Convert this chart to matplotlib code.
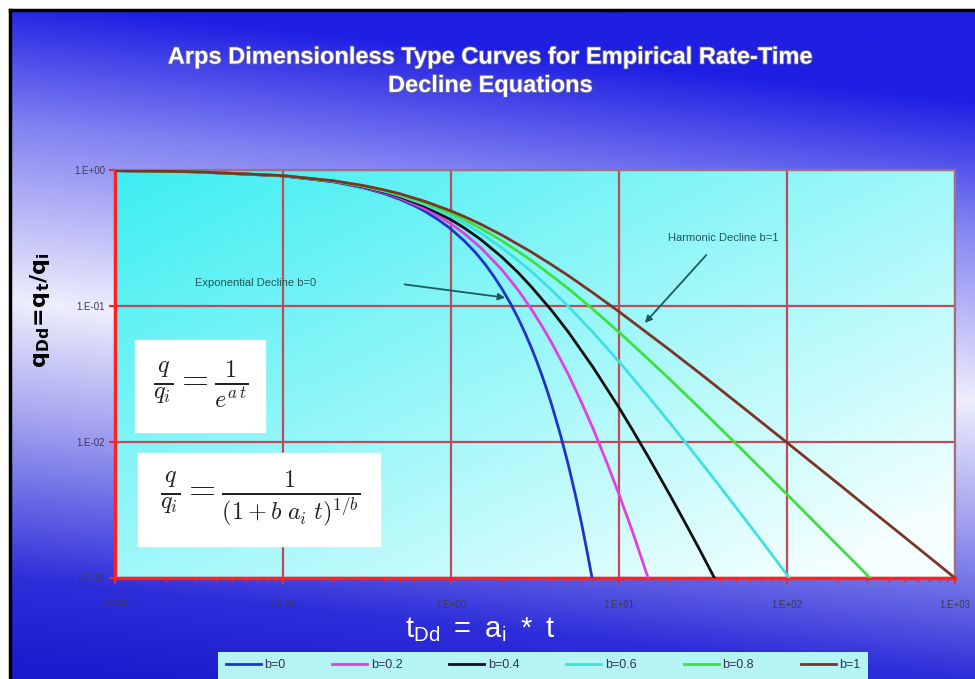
import numpy as np
import matplotlib
matplotlib.use("Agg")
import matplotlib.pyplot as plt
from matplotlib.patches import Rectangle
import matplotlib.patheffects as pe

# values (t_Dd, q_Dd)
t_b0 = [0.01, 0.03, 0.1, 0.2, 0.3, 0.4, 0.5, 0.6, 0.7, 0.85, 1, 1.2, 1.4, 1.6, 1.8, 2, 2.25,
        2.5, 2.75, 3, 3.25, 3.5, 3.75, 4, 4.5, 5, 5.5, 6, 6.5, 6.9]
q_b0 = [0.990, 0.970, 0.905, 0.819, 0.741, 0.670, 0.607, 0.549, 0.497, 0.427, 0.368, 0.301,
        0.247, 0.202, 0.165, 0.135, 0.1054, 0.0821, 0.0639, 0.0498, 0.0388, 0.0302, 0.0235,
        0.0183, 0.0111, 0.00674, 0.00409, 0.00248, 0.00150, 0.00101]

t_b02 = [0.01, 0.03, 0.1, 0.2, 0.3, 0.4, 0.5, 0.7, 0.85, 1, 1.2, 1.5, 2, 2.5, 3, 3.5, 4, 5, 6,
         7, 8.5, 10, 12, 13.5, 14.9]
q_b02 = [0.990, 0.970, 0.906, 0.822, 0.747, 0.681, 0.621, 0.519, 0.456, 0.402, 0.341, 0.269,
         0.186, 0.1317, 0.0954, 0.0704, 0.0529, 0.0313, 0.0194, 0.0126, 0.00697, 0.00412,
         0.00222, 0.00144, 0.00100]

t_b04 = [0.01, 0.03, 0.1, 0.2, 0.3, 0.4, 0.5, 0.7, 1, 1.2, 1.5, 2, 2.5, 3, 4, 5, 7, 10, 12, 15,
         20, 25, 30, 37]
q_b04 = [0.990, 0.971, 0.907, 0.825, 0.753, 0.690, 0.634, 0.540, 0.431, 0.375, 0.309, 0.230,
         0.177, 0.139, 0.0917, 0.0642, 0.0355, 0.0179, 0.01234, 0.00771, 0.00412, 0.00249,
         0.00164, 0.00100]

t_b06 = [0.01, 0.03, 0.1, 0.2, 0.3, 0.4, 0.5, 0.7, 1, 1.2, 1.5, 2, 2.5, 3, 4, 5, 7, 10, 15, 20,
         30, 40, 50, 70, 85, 103]
q_b06 = [0.990, 0.971, 0.908, 0.828, 0.759, 0.699, 0.646, 0.557, 0.457, 0.405, 0.343, 0.269,
         0.217, 0.180, 0.130, 0.0992, 0.0640, 0.0390, 0.0215, 0.0139, 0.00739, 0.00468,
         0.00327, 0.00190, 0.00138, 0.00100]

t_b08 = [0.01, 0.03, 0.1, 0.2, 0.3, 0.4, 0.5, 0.7, 1, 1.2, 1.5, 2, 3, 4, 5, 7, 10, 14, 20, 30,
         50, 70, 100, 150, 200, 250, 312]
q_b08 = [0.990, 0.971, 0.908, 0.831, 0.764, 0.707, 0.657, 0.574, 0.480, 0.431, 0.373, 0.303,
         0.217, 0.166, 0.134, 0.0945, 0.0642, 0.0438, 0.0290, 0.0179, 0.00964, 0.00639,
         0.00412, 0.00249, 0.00174, 0.00132, 0.00100]

t_b1 = [0.01, 0.03, 0.1, 0.2, 0.3, 0.4, 0.5, 0.7, 1, 1.2, 1.5, 2, 3, 4, 5, 7, 10, 20, 30, 50,
        100, 200, 300, 500, 1000]
q_b1 = [0.990, 0.971, 0.909, 0.833, 0.769, 0.714, 0.667, 0.588, 0.500, 0.4545, 0.400, 0.333,
        0.250, 0.200, 0.167, 0.125, 0.0909, 0.0476, 0.0323, 0.0196, 0.0099, 0.00498, 0.00332,
        0.00200, 0.00100]

series = [(t_b0, q_b0, "b=0", "#2233c8"),
          (t_b02, q_b02, "b=0.2", "#e040e0"),
          (t_b04, q_b04, "b=0.4", "#111111"),
          (t_b06, q_b06, "b=0.6", "#40e0e0"),
          (t_b08, q_b08, "b=0.8", "#3ee03e"),
          (t_b1, q_b1, "b=1", "#7a3525")]

x_ticks = [1e-2, 1e-1, 1e0, 1e1, 1e2, 1e3]
x_labels = ["1.E-02", "1.E-01", "1.E+00", "1.E+01", "1.E+02", "1.E+03"]
y_ticks = [1e-3, 1e-2, 1e-1, 1e0]
y_labels = ["1.E-03", "1.E-02", "1.E-01", "1.E+00"]

plt.rcParams['font.family'] = ['Liberation Sans', 'DejaVu Sans']
plt.rcParams['mathtext.fontset'] = 'cm'

fig = plt.figure(figsize=(9.75, 6.79), dpi=100)

# slide background: diagonal blue -> pale -> blue
bg = fig.add_axes([0, 0, 1, 1], zorder=-10)
H, W = 340, 490
yy, xx = np.mgrid[0:H, 0:W]
v = yy / H - 0.15 * xx / W
stops = [-0.15, 0.0, 0.18, 0.44, 0.62, 0.85, 1.0]
cols = np.array([[30, 30, 225], [32, 32, 228], [130, 130, 242], [238, 238, 252],
                 [160, 160, 240], [45, 45, 218], [25, 25, 205]]) / 255.0
img = np.zeros((H, W, 3))
for c in range(3):
    img[..., c] = np.interp(v, stops, cols[:, c])
bg.imshow(img, extent=[0, 1, 0, 1], aspect='auto', origin='upper')
bg.set_xlim(0, 1)
bg.set_ylim(0, 1)
bg.axis('off')
# white strip and black frame of the screenshot
bg.add_patch(Rectangle((0, 1 - 9 / 679), 1, 9 / 679, color='white', zorder=2))
bg.add_patch(Rectangle((0, 0), 9 / 975, 1, color='white', zorder=2))
bg.plot([10 / 975, 10 / 975], [0, 1 - 10 / 679], color='black', lw=2.5, zorder=3)
bg.plot([10 / 975, 1], [1 - 10 / 679, 1 - 10 / 679], color='black', lw=2.5, zorder=3)

ax = fig.add_axes([115 / 975, 101 / 679, 840 / 975, 408 / 679])
# plot area fill: cyan to near white
gy, gx = np.mgrid[0:100, 0:100]
w = 0.55 * gx / 100 + 0.55 * gy / 100
c0 = np.array([60, 238, 242]) / 255.0
c1 = np.array([245, 255, 255]) / 255.0
fill = c0 + (c1 - c0) * np.clip(w, 0, 1)[..., None]
ax.imshow(fill, extent=[0, 1, 0, 1], transform=ax.transAxes, aspect='auto',
          origin='upper', zorder=0)

for t, q, lab, col in series:
    ax.plot(t, q, color=col, lw=2, label=lab, zorder=3)

ax.set_xscale('log')
ax.set_yscale('log')
ax.set_xlim(1e-2, 1e3)
ax.set_ylim(1e-3, 1e0)
ax.set_xticks(x_ticks)
ax.set_xticklabels(x_labels)
ax.set_yticks(y_ticks)
ax.set_yticklabels(y_labels)
ax.tick_params(axis='both', which='major', labelsize=7, labelcolor='#3a3a5a',
               color='#ff2020', length=4, width=1.5)
ax.tick_params(axis='x', which='major', pad=12)
ax.tick_params(axis='y', which='major', pad=3)
ax.tick_params(axis='x', which='minor', color='#ff2020', length=3, width=1)
ax.tick_params(axis='y', which='minor', length=0)
ax.yaxis.set_minor_formatter(matplotlib.ticker.NullFormatter())
ax.xaxis.set_minor_formatter(matplotlib.ticker.NullFormatter())
ax.grid(True, which='major', color='#c04a5a', lw=1.6, zorder=1)
ax.set_axisbelow(True)
for s in ['left', 'bottom']:
    ax.spines[s].set_color('#ff2020')
    ax.spines[s].set_linewidth(2.5)
for s in ['top', 'right']:
    ax.spines[s].set_color('#a07080')
    ax.spines[s].set_linewidth(1.6)

# annotations
ann_col = '#1d5a5a'
ax.text(0.030, 0.148, "Exponential Decline b=0", fontsize=8, color=ann_col,
        va='center', ha='left', zorder=4)
ax.annotate('', xy=(2.18, 0.1145), xytext=(0.51, 0.145),
            arrowprops=dict(arrowstyle='-|>', color=ann_col, lw=1.3, mutation_scale=10),
            zorder=4)
ax.text(19.6, 0.316, "Harmonic Decline b=1", fontsize=8, color=ann_col,
        va='center', ha='left', zorder=4)
ax.annotate('', xy=(13.9, 0.0725), xytext=(33.9, 0.245),
            arrowprops=dict(arrowstyle='-|>', color=ann_col, lw=1.3, mutation_scale=10),
            zorder=4)

# formula boxes
fig.patches.append(Rectangle((135 / 975, 247 / 679), 130 / 975, 92 / 679,
                             transform=fig.transFigure, color='white', zorder=5))
fig.text(201 / 975, 294 / 679, r'$\frac{q}{q_i} = \frac{1}{e^{a\,t}}$',
         fontsize=25, ha='center', va='center', color='#222222', zorder=6)
fig.patches.append(Rectangle((138 / 975, 133 / 679), 242 / 975, 93 / 679,
                             transform=fig.transFigure, color='white', zorder=5))
fig.text(260 / 975, 180 / 679, r'$\frac{q}{q_i} = \frac{1}{(1 + b\;a_i\;t)^{1/b}}$',
         fontsize=25, ha='center', va='center', color='#222222', zorder=6)

# titles and axis labels
fig.text(0.503, 0.895, "Arps Dimensionless Type Curves for Empirical Rate-Time\nDecline Equations",
         fontsize=17, fontweight='bold', color='white', ha='center', va='center',
         linespacing=1.3,
         path_effects=[pe.withStroke(linewidth=1.2, foreground='#6a6a9a')])
fig.text(40 / 975, 1 - 310 / 679, r'$\mathbf{q_{Dd}\!=\!q_t/q_i}$', rotation=90,
         fontsize=16, ha='center', va='center', color='black',
         math_fontfamily='dejavusans')
fig.text(480 / 975, 1 - 630 / 679, r'$\mathregular{t_{Dd}\ =\ a_i\ *\ t}$',
         fontsize=21, ha='center', va='center', color='white')

handles, labels = ax.get_legend_handles_labels()
leg = fig.legend(handles, labels, loc='upper left', ncol=6, mode='expand',
                 bbox_to_anchor=(218 / 975, 0.0, 650 / 975, 1 - 652 / 679),
                 fontsize=9, frameon=True, fancybox=False, borderaxespad=0,
                 handlelength=2.8, handletextpad=0.3, borderpad=0.6)
leg.get_frame().set_facecolor('#b4f4f4')
leg.get_frame().set_edgecolor('none')
leg.get_frame().set_alpha(1)
for txt in leg.get_texts():
    txt.set_color('#333355')

fig.savefig("out.png", dpi=100)
